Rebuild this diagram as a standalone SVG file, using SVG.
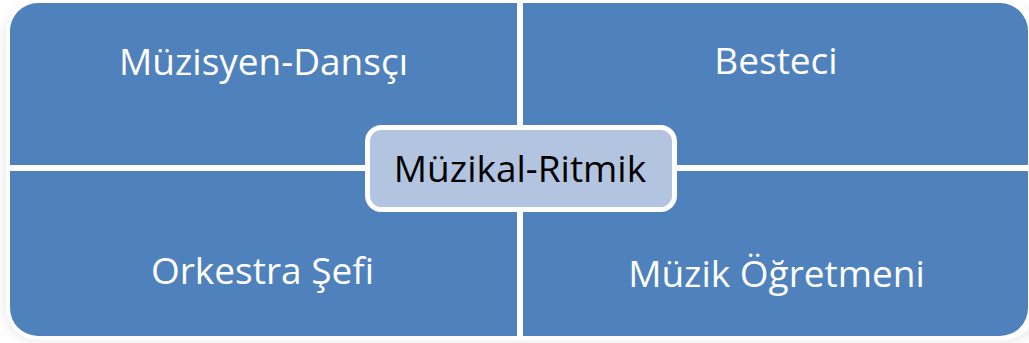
<svg xmlns="http://www.w3.org/2000/svg" width="1029" height="343" viewBox="0 0 1029 343">
  <style>
    .quad { fill: #4F81BD; }
    .lbl { font-family: "Open Sans", "Liberation Sans", sans-serif; font-size: 37px; fill: #FFFFFF; text-anchor: middle; }
    .ctr { font-family: "Open Sans", "Liberation Sans", sans-serif; font-size: 37px; fill: #000000; text-anchor: middle; }
  </style>
  <defs>
    <filter id="soft" x="-5%" y="-10%" width="110%" height="120%">
      <feGaussianBlur stdDeviation="4"/>
    </filter>
  </defs>
  <rect width="1029" height="343" fill="#FFFFFF"/>
  <g id="shadow">
    <rect x="3" y="4" width="1040" height="338" rx="34" fill="#E6E6E6" opacity="0.7" filter="url(#soft)"/>
    <rect x="6" y="0" width="1030" height="340" rx="32" fill="#FFFFFF"/>
  </g>
  <g id="node-tl">
    <path class="quad" d="M10,31 A28,28 0 0 1 38,3 H517 V165 H10 Z"/>
    <text class="lbl" x="263.5" y="75">Müzisyen-Dansçı</text>
  </g>
  <g id="node-tr">
    <path class="quad" d="M523,3 H1000 A28,28 0 0 1 1028,31 V165 H523 Z"/>
    <text class="lbl" x="776" y="74">Besteci</text>
  </g>
  <g id="node-bl">
    <path class="quad" d="M10,171 H517 V336 H38 A28,28 0 0 1 10,308 Z"/>
    <text class="lbl" x="262.5" y="284">Orkestra Şefi</text>
  </g>
  <g id="node-br">
    <path class="quad" d="M523,171 H1028 V308 A28,28 0 0 1 1000,336 H523 Z"/>
    <text class="lbl" x="776.5" y="287">Müzik Öğretmeni</text>
  </g>
  <g id="connectors"/>
  <g id="node-center">
    <rect x="367.5" y="127.5" width="307" height="82" rx="14" fill="#B3C4E0" stroke="#FFFFFF" stroke-width="5"/>
    <text class="ctr" x="520" y="182">Müzikal-Ritmik</text>
  </g>
</svg>
